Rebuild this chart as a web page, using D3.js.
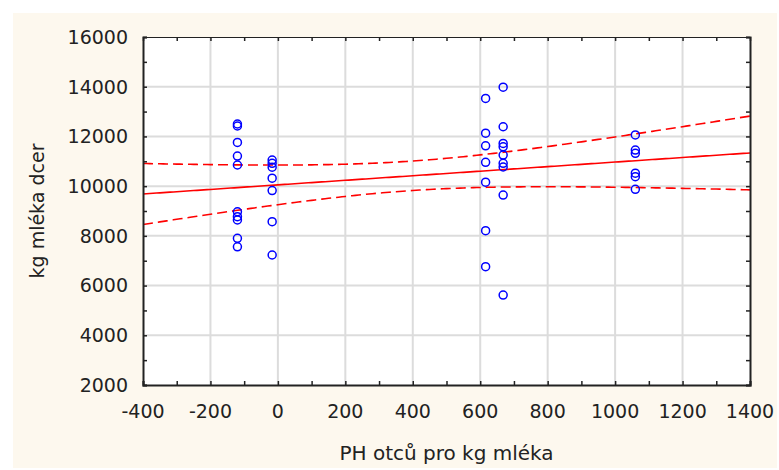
<!DOCTYPE html>
<html>
<head>
<meta charset="utf-8">
<script src="https://cdn.jsdelivr.net/npm/d3@7"></script>
<style>
  body { margin: 0; background: #fff; }
  svg { display: block; font-family: "DejaVu Sans", Verdana, sans-serif; }
</style>
</head>
<body>
<div id="chart"></div>
<script>
// PH otcu (x) vs. kg mleka dcer (y)
const sireValues = [
  -120, -120, -120, -120, -120, -120, -120, -120, -120, -120,
  -17, -17, -17, -17, -17, -17, -17,
  616, 616, 616, 616, 616, 616, 616,
  668, 668, 668, 668, 668, 668, 668, 668, 668,
  1060, 1060, 1060, 1060, 1060, 1060
];
const daughterMilk = [
  12500, 12420, 11760, 11210, 10850, 8970, 8770, 8640, 7900, 7560,
  11050, 10920, 10760, 10320, 9820, 8570, 7230,
  13530, 12130, 11620, 10960, 10160, 8210, 6760,
  13980, 12390, 11720, 11580, 11250, 10920, 10770, 9640, 5620,
  12060, 11450, 11320, 10520, 10380, 9870
];
const xTicks = [-400, -200, 0, 200, 400, 600, 800, 1000, 1200, 1400];
const yTicks = [2000, 4000, 6000, 8000, 10000, 12000, 14000, 16000];
const xLabel = "PH otců pro kg mléka";
const yLabel = "kg mléka dcer";
const tCrit = 2.026; // t(0.975, df = n - 2)

const width = 779;
const height = 470;
const margin = { top: 37, right: 29, bottom: 85, left: 143 };

const x = d3.scaleLinear().domain([-400, 1400]).range([margin.left, width - margin.right]);
const y = d3.scaleLinear().domain([2000, 16000]).range([height - margin.bottom, margin.top]);

const svg = d3.select("#chart")
  .append("svg")
  .attr("width", width)
  .attr("height", height);

svg.append("rect")
  .attr("x", 13).attr("y", 13)
  .attr("width", width - 15).attr("height", height - 15)
  .attr("fill", "#fdf8ee");

svg.append("rect")
  .attr("x", x(-400)).attr("y", y(16000))
  .attr("width", x(1400) - x(-400)).attr("height", y(2000) - y(16000))
  .attr("fill", "#fff");

// grid
const grid = svg.append("g").attr("stroke", "#dcdcdc").attr("stroke-width", 2);
grid.selectAll(".gx")
  .data(xTicks.slice(1, -1))
  .enter().append("line")
  .attr("x1", d => x(d)).attr("x2", d => x(d))
  .attr("y1", y(2000)).attr("y2", y(16000));
grid.selectAll(".gy")
  .data(yTicks.slice(1, -1))
  .enter().append("line")
  .attr("y1", d => y(d)).attr("y2", d => y(d))
  .attr("x1", x(-400)).attr("x2", x(1400));

// regression line + 95% confidence band
const n = sireValues.length;
const mx = d3.mean(sireValues);
const my = d3.mean(daughterMilk);
const sxx = d3.sum(sireValues, v => (v - mx) ** 2);
const sxy = d3.sum(sireValues, (v, i) => (v - mx) * (daughterMilk[i] - my));
const slope = sxy / sxx;
const intercept = my - slope * mx;
const sse = d3.sum(sireValues, (v, i) => (daughterMilk[i] - intercept - slope * v) ** 2);
const se = Math.sqrt(sse / (n - 2));
const xs = d3.range(-400, 1401, 10);
const band = xv => tCrit * se * Math.sqrt(1 / n + (xv - mx) ** 2 / sxx);

const line = d3.line().x(d => x(d[0])).y(d => y(d[1]));

const fits = svg.append("g")
  .attr("fill", "none")
  .attr("stroke", "#ff0000")
  .attr("stroke-width", 1.6);

fits.append("path")
  .attr("d", line(xs.map(v => [v, intercept + slope * v])));
fits.append("path")
  .attr("stroke-dasharray", "10,5")
  .attr("d", line(xs.map(v => [v, intercept + slope * v + band(v)])));
fits.append("path")
  .attr("stroke-dasharray", "10,5")
  .attr("d", line(xs.map(v => [v, intercept + slope * v - band(v)])));

// points
svg.append("g")
  .selectAll("circle")
  .data(sireValues)
  .enter()
  .append("circle")
  .attr("cx", d => x(d))
  .attr("cy", (d, i) => y(daughterMilk[i]))
  .attr("r", 4)
  .attr("fill", "none")
  .attr("stroke", "#0000ff")
  .attr("stroke-width", 1.5);

// axes, ticks pointing inward on all four sides
const xMinor = d3.range(-400, 1401, 100);
const yMinor = d3.range(2000, 16001, 1000);

const axBottom = svg.append("g")
  .attr("transform", `translate(0,${y(2000)})`)
  .call(d3.axisBottom(x).tickValues(xMinor).tickSize(-4).tickFormat(""));
const axTop = svg.append("g")
  .attr("transform", `translate(0,${y(16000)})`)
  .call(d3.axisTop(x).tickValues(xMinor).tickSize(-4).tickFormat(""));
const axLeft = svg.append("g")
  .attr("transform", `translate(${x(-400)},0)`)
  .call(d3.axisLeft(y).tickValues(yMinor).tickSize(-4).tickFormat(""));
const axRight = svg.append("g")
  .attr("transform", `translate(${x(1400)},0)`)
  .call(d3.axisRight(y).tickValues(yMinor).tickSize(-4).tickFormat(""));

[axBottom, axTop, axLeft, axRight].forEach(g => {
  g.selectAll("path").attr("stroke", "#222").attr("stroke-width", 2);
  g.selectAll("line").attr("stroke", "#222").attr("stroke-width", 1.5);
});
axTop.select("path").attr("stroke-width", 1);

// tick labels
svg.append("g")
  .selectAll("text")
  .data(xTicks)
  .enter().append("text")
  .attr("x", d => x(d))
  .attr("y", y(2000) + 33)
  .attr("text-anchor", "middle")
  .attr("font-size", 19)
  .attr("fill", "#222")
  .text(d => d);

svg.append("g")
  .selectAll("text")
  .data(yTicks)
  .enter().append("text")
  .attr("x", x(-400) - 15)
  .attr("y", d => y(d))
  .attr("dy", "0.36em")
  .attr("text-anchor", "end")
  .attr("font-size", 19)
  .attr("fill", "#222")
  .text(d => d);

svg.append("text")
  .attr("x", (x(-400) + x(1400)) / 2)
  .attr("y", 460)
  .attr("text-anchor", "middle")
  .attr("font-size", 20)
  .attr("fill", "#222")
  .text(xLabel);

svg.append("text")
  .attr("transform", `translate(44,${(y(2000) + y(16000)) / 2}) rotate(-90)`)
  .attr("text-anchor", "middle")
  .attr("font-size", 19)
  .attr("fill", "#222")
  .text(yLabel);
</script>
</body>
</html>
